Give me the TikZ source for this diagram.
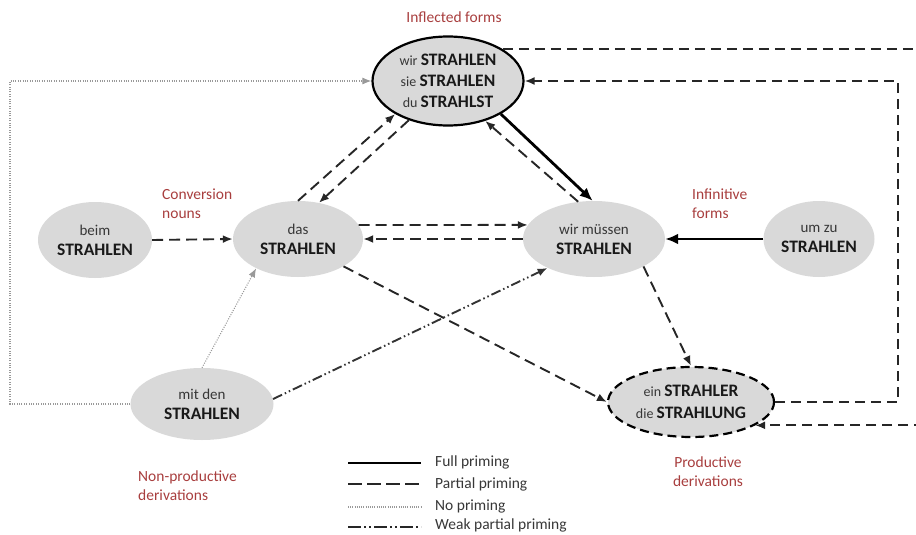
\documentclass[tikz,border=0pt]{standalone}
\usepackage{fontspec}
\setmainfont{Carlito}
\usetikzlibrary{arrows.meta,shapes.geometric}
\definecolor{lblred}{RGB}{168,62,62}
\definecolor{nodefill}{RGB}{217,217,217}
\definecolor{txt}{RGB}{55,55,55}
\newcommand\bgw[1]{{\fontsize{17.5}{21}\selectfont\bfseries\color{black!90}#1}}
\begin{document}
\begin{tikzpicture}[x=1pt,y=-1pt,
  wnode/.style={ellipse,fill=nodefill,inner sep=0pt,align=center,text=txt,
    font=\fontsize{15}{20}\selectfont},
  lbl/.style={text=lblred,font=\fontsize{15.5}{19}\selectfont,inner sep=0pt},
  leg/.style={text=txt,font=\fontsize{15.5}{18}\selectfont,inner sep=0pt,anchor=west},
  pp/.style={draw=black!85,line width=1.9pt,dash pattern=on 11pt off 6pt,
    -{Latex[length=10pt,width=8pt]}},
  ppn/.style={draw=black!85,line width=1.9pt,dash pattern=on 10pt off 6pt},
  ppl/.style={draw=black!85,line width=1.9pt,dash pattern=on 10pt off 6pt,
    -{Latex[length=10pt,width=8pt]}},
  fp/.style={draw=black,line width=2.8pt,-{Latex[length=13pt,width=11pt]}},
  np/.style={draw=black!40,line width=1.1pt,dash pattern=on 1pt off 1.4pt,
    -{Latex[length=9pt,width=7pt]}},
  wp/.style={draw=black!80,line width=1.9pt,
    dash pattern=on 10pt off 3pt on 1.5pt off 3pt on 1.5pt off 3pt,
    -{Latex[length=10pt,width=8pt]}}
]
\path[use as bounding box] (0,0) rectangle (916,535);
\clip (0,0) rectangle (916,535);

% nodes
\node[wnode,draw=black,line width=2.2pt,minimum width=151pt,minimum height=89pt,
  font=\fontsize{14}{21}\selectfont] (inf) at (448,81)
  {wir \bgw{STRAHLEN}\\sie \bgw{STRAHLEN}\\du \bgw{STRAHLST}};
\node[wnode,minimum width=114pt,minimum height=76pt] (beim) at (95,240)
  {beim\\\bgw{STRAHLEN}};
\node[wnode,minimum width=130pt,minimum height=76pt] (das) at (298,239)
  {das\\\bgw{STRAHLEN}};
\node[wnode,minimum width=142pt,minimum height=76pt] (mus) at (594,239)
  {wir müssen\\\bgw{STRAHLEN}};
\node[wnode,minimum width=111pt,minimum height=76pt] (um) at (819,239)
  {um zu\\\bgw{STRAHLEN}};
\node[wnode,minimum width=143pt,minimum height=72pt] (mit) at (202,404)
  {mit den\\\bgw{STRAHLEN}};
\node[wnode,draw=black,line width=2.2pt,dash pattern=on 9pt off 5pt,
  minimum width=166pt,minimum height=70pt,
  font=\fontsize{14}{22}\selectfont] (str) at (691,402)
  {ein \bgw{STRAHLER}\\die \bgw{STRAHLUNG}};

% labels
\node[lbl] (linf) at (454,17) {Inflected forms};
\node[lbl,anchor=west,align=left] (lconv) at (162,204) {Conversion\\nouns};
\node[lbl,anchor=west,align=left] (linfi) at (692,204) {Infinitive\\forms};
\node[lbl,anchor=west,align=left] (lnon) at (138,486) {Non-productive\\derivations};
\node[lbl,align=center] (lprod) at (708,472) {Productive\\derivations};

% connectors
\draw[pp] (beim.east) -- (das.west);
\draw[pp] (das.90) -- (inf.212);
\draw[pp] (inf.225) -- (das.60);
\draw[fp] (inf.-32) -- (mus.92);
\draw[pp] (mus.113) -- (inf.-47);
\draw[pp] (das.13) -- (mus.168);
\draw[pp] (mus.west) -- (das.east);
\draw[fp] (um.west) -- (mus.east);
\draw[pp] (mus.-29) -- (str.north);
\draw[pp] (das.-31) -- (str.west);
\draw[np] (mit.north) -- (das.215);
\draw[wp] (mit.4) -- (mus.212);

% loops
\coordinate (dl) at (10,81);
\draw[np] (mit.west) -| (dl) -- (inf.west);
\coordinate (rl) at (898,81);
\draw[ppl] (str.east) -| (rl) -- (inf.east);
\coordinate (offtop) at (940,49);
\draw[ppn] (inf.30) -- (inf.30 -| offtop);
\coordinate (offbot) at (940,425);
\draw[ppl] (offbot |- str.-20) -- (str.-20);

% legend
\coordinate (l1a) at (348,463); \coordinate (l1b) at (421,463);
\coordinate (l2a) at (348,484); \coordinate (l2b) at (421,484);
\coordinate (l3a) at (348,507); \coordinate (l3b) at (421,507);
\coordinate (l4a) at (348,527); \coordinate (l4b) at (421,527);
\draw[black,line width=2.8pt] (l1a) -- (l1b);
\draw[black!85,line width=1.9pt,dash pattern=on 14pt off 5pt] (l2a) -- (l2b);
\draw[black!40,line width=1.1pt,dash pattern=on 1pt off 1.2pt] (l3a) -- (l3b);
\draw[black!85,line width=2.4pt,dash pattern=on 13pt off 3pt on 2pt off 3pt on 2pt off 3pt] (l4a) -- (l4b);
\node[leg] (t1) at (435,462) {Full priming};
\node[leg] (t2) at (435,484) {Partial priming};
\node[leg] (t3) at (435,506) {No priming};
\node[leg] (t4) at (435,525) {Weak partial priming};
\end{tikzpicture}
\end{document}
